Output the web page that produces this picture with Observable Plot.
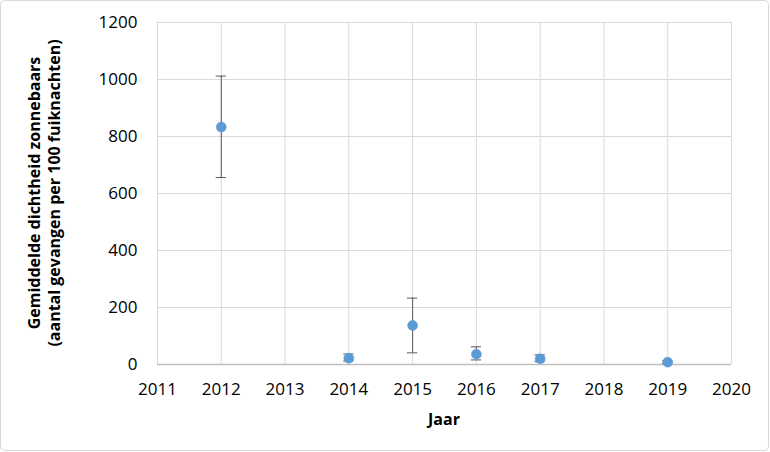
<!DOCTYPE html>
<html>
<head>
<meta charset="utf-8">
<script src="https://cdn.jsdelivr.net/npm/d3@7"></script>
<script src="https://cdn.jsdelivr.net/npm/@observablehq/plot@0.6"></script>
<style>
  html, body { margin: 0; padding: 0; background: #fff; }
  svg { display: block; }
</style>
</head>
<body>
<div id="chart"></div>
<script>
const years = [2012, 2014, 2015, 2016, 2017, 2019];
const means = [833, 22, 137, 36, 20, 8];
const lower = [656, 12, 41, 16, 10, 4];
const upper = [1012, 37, 233, 62, 34, 13];
const xTicks = [2011, 2012, 2013, 2014, 2015, 2016, 2017, 2018, 2019, 2020];
const yTicks = [0, 200, 400, 600, 800, 1000, 1200];
const yLabel1 = "Gemiddelde dichtheid zonnebaars";
const yLabel2 = "(aantal gevangen per 100 fuiknachten)";
const xLabel = "Jaar";

const data = years.map((y, i) => ({year: y, mean: means[i], lo: lower[i], hi: upper[i]}));

const W = 770, H = 452;
const chart = Plot.plot({
  width: W,
  height: H,
  marginLeft: 157,
  marginRight: 39,
  marginTop: 22,
  marginBottom: 88,
  style: {fontFamily: "'Open Sans', sans-serif", fontSize: "17px", color: "#000", background: "#fff"},
  x: {domain: [2011, 2020], ticks: xTicks, tickFormat: d => String(d), tickSize: 0, tickPadding: 18, label: null},
  y: {domain: [0, 1200], ticks: yTicks, tickFormat: d => String(d), tickSize: 0, tickPadding: 20, label: null},
  marks: [
    Plot.gridX(xTicks, {stroke: "#d9d9d9", strokeOpacity: 1, strokeWidth: 1}),
    Plot.gridY(yTicks.filter(d => d > 0), {stroke: "#d9d9d9", strokeOpacity: 1, strokeWidth: 1}),
    Plot.ruleY([0], {stroke: "#bfbfbf", strokeWidth: 1.3}),
    Plot.ruleX(data, {x: "year", y1: "lo", y2: "hi", stroke: "#595959", strokeWidth: 1}),
    Plot.ruleY(data, {y: "hi", x1: d => d.year - 0.08, x2: d => d.year + 0.08, stroke: "#595959", strokeWidth: 1}),
    Plot.ruleY(data, {y: "lo", x1: d => d.year - 0.08, x2: d => d.year + 0.08, stroke: "#595959", strokeWidth: 1}),
    Plot.dot(data, {x: "year", y: "mean", r: 5, fill: "#5b9bd5", stroke: "#5b9bd5", strokeWidth: 0.5})
  ]
});

const svg = d3.select(chart);
svg.insert("rect", ":first-child")
  .attr("x", 0.5).attr("y", 0.5).attr("width", W - 2).attr("height", H - 2)
  .attr("rx", 4).attr("fill", "#fff").attr("stroke", "#d9d9d9");

const cy = (22 + (H - 88)) / 2;
svg.append("text")
  .attr("transform", `translate(40,${cy}) rotate(-90)`)
  .attr("text-anchor", "middle")
  .attr("font-family", "'Open Sans', sans-serif")
  .attr("font-weight", "bold").attr("font-size", 16)
  .text(yLabel1);
svg.append("text")
  .attr("transform", `translate(60,${cy}) rotate(-90)`)
  .attr("text-anchor", "middle")
  .attr("font-family", "'Open Sans', sans-serif")
  .attr("font-weight", "bold").attr("font-size", 16)
  .text(yLabel2);
svg.append("text")
  .attr("x", 157 + (W - 157 - 39) / 2).attr("y", 425)
  .attr("text-anchor", "middle")
  .attr("font-family", "'Open Sans', sans-serif")
  .attr("font-weight", "bold").attr("font-size", 16)
  .text(xLabel);

document.getElementById("chart").appendChild(chart);
</script>
</body>
</html>
